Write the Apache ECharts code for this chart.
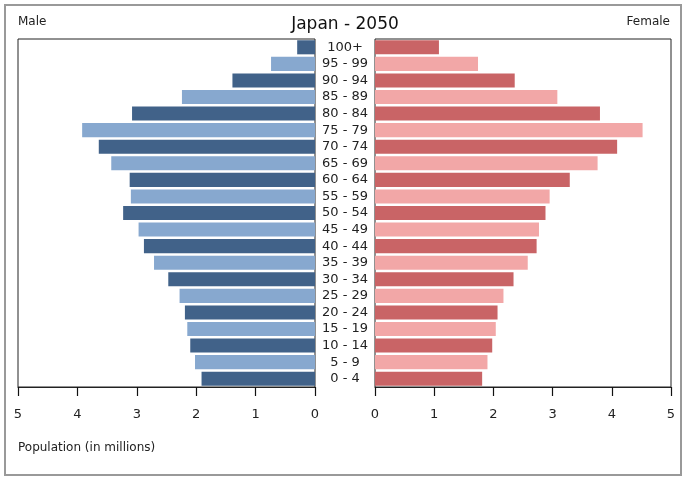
<!DOCTYPE html>
<html>
<head>
<meta charset="utf-8">
<style>
  html, body { margin: 0; padding: 0; background: #fff; }
  #chart { width: 690px; height: 482px; }
</style>
<script src="https://cdn.jsdelivr.net/npm/echarts@6/dist/echarts.min.js"></script>
</head>
<body>
<div id="chart"></div>
<script>
// age groups, bottom to top
const ageGroups = ['0 - 4', '5 - 9', '10 - 14', '15 - 19', '20 - 24', '25 - 29', '30 - 34', '35 - 39',
  '40 - 44', '45 - 49', '50 - 54', '55 - 59', '60 - 64', '65 - 69', '70 - 74', '75 - 79',
  '80 - 84', '85 - 89', '90 - 94', '95 - 99', '100+'];
const maleValues = [1.91, 2.02, 2.10, 2.15, 2.19, 2.28, 2.47, 2.71, 2.88, 2.97, 3.23, 3.10,
  3.12, 3.43, 3.64, 3.92, 3.08, 2.24, 1.39, 0.74, 0.30];
const femaleValues = [1.81, 1.90, 1.98, 2.04, 2.07, 2.17, 2.34, 2.58, 2.73, 2.77, 2.88, 2.95,
  3.29, 3.76, 4.09, 4.52, 3.80, 3.08, 2.36, 1.74, 1.08];
const xTicks = [0, 1, 2, 3, 4, 5];

const FONT = '"DejaVu Sans", sans-serif';
const maleColors = ['#416289', '#87a8cf'];
const femaleColors = ['#c96466', '#f2a7a7'];

const chart = echarts.init(document.getElementById('chart'));

function xAxisFor(gridIndex, inverse) {
  return {
    type: 'value',
    gridIndex: gridIndex,
    inverse: inverse,
    position: 'bottom',
    min: xTicks[0],
    max: xTicks[xTicks.length - 1],
    interval: 1,
    splitLine: { show: false },
    axisLine: { show: true, onZero: false, lineStyle: { color: '#222', width: 1 } },
    axisTick: { show: true, inside: false, length: 9, lineStyle: { color: '#111', width: 1.2 } },
    axisLabel: { show: true, color: '#222', fontFamily: FONT, fontSize: 13, margin: 21 }
  };
}

const yAxisBase = {
  type: 'category',
  data: ageGroups,
  axisLine: { show: false },
  axisTick: { show: false },
  splitLine: { show: false }
};

chart.setOption({
  animation: false,
  backgroundColor: '#fff',
  title: {
    text: 'Japan - 2050',
    left: 'center',
    top: 11,
    textStyle: { fontFamily: FONT, fontSize: 17, fontWeight: 'normal', color: '#111' }
  },
  graphic: [
    {
      type: 'rect',
      shape: { x: 5, y: 5, width: 676, height: 470 },
      style: { fill: 'none', stroke: '#999', lineWidth: 2 },
      z: -1
    },
    {
      type: 'text', left: 18, top: 16,
      style: { text: 'Male', fontFamily: FONT, fontSize: 12, fill: '#222' }
    },
    {
      type: 'text', right: 20, top: 16,
      style: { text: 'Female', fontFamily: FONT, fontSize: 12, fill: '#222' }
    },
    {
      type: 'text', left: 18, top: 442,
      style: { text: 'Population (in millions)', fontFamily: FONT, fontSize: 12, fill: '#222' }
    }
  ],
  grid: [
    { left: 18, top: 39, width: 297, height: 348, show: true, borderColor: '#222', borderWidth: 1 },
    { left: 375, top: 39, width: 296, height: 348, show: true, borderColor: '#222', borderWidth: 1 }
  ],
  xAxis: [xAxisFor(0, true), xAxisFor(1, false)],
  yAxis: [
    Object.assign({ gridIndex: 0, axisLabel: { show: false } }, yAxisBase),
    Object.assign({
      gridIndex: 1,
      axisLabel: {
        show: true, interval: 0, align: 'center', margin: 30,
        color: '#222', fontFamily: FONT, fontSize: 13
      }
    }, yAxisBase)
  ],
  series: [
    {
      name: 'Male',
      type: 'bar',
      xAxisIndex: 0,
      yAxisIndex: 0,
      barCategoryGap: '15%',
      data: maleValues,
      itemStyle: { color: p => maleColors[p.dataIndex % 2] }
    },
    {
      name: 'Female',
      type: 'bar',
      xAxisIndex: 1,
      yAxisIndex: 1,
      barCategoryGap: '15%',
      data: femaleValues,
      itemStyle: { color: p => femaleColors[p.dataIndex % 2] }
    }
  ]
});
</script>
</body>
</html>
